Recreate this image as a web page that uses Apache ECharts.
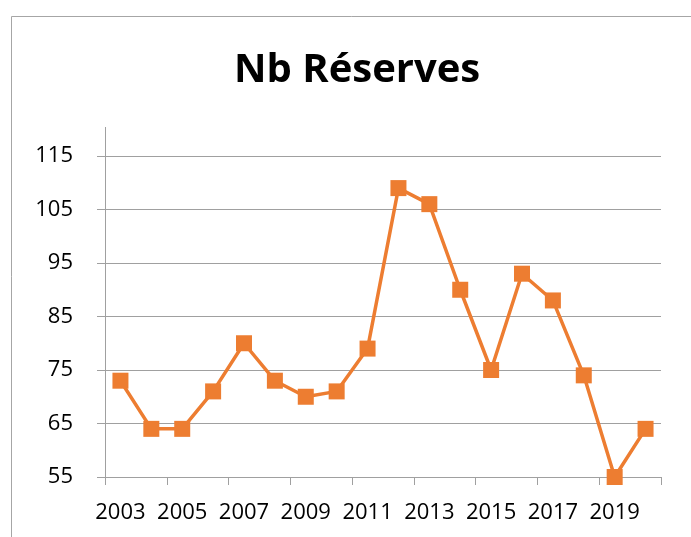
<!DOCTYPE html>
<html>
<head>
<meta charset="utf-8">
<script src="https://cdn.jsdelivr.net/npm/echarts@6/dist/echarts.min.js"></script>
<style>
  html, body { margin: 0; padding: 0; background: #fff; }
  #chart { width: 691px; height: 537px; }
</style>
</head>
<body>
<div id="chart"></div>
<script>
const years = ['2003', '2004', '2005', '2006', '2007', '2008', '2009', '2010', '2011',
  '2012', '2013', '2014', '2015', '2016', '2017', '2018', '2019', '2020'];
const reserves = [73, 64, 64, 71, 80, 73, 70, 71, 79, 109, 106, 90, 75, 93, 88, 74, 55, 64];
const yTicks = [55, 65, 75, 85, 95, 105, 115];

const chart = echarts.init(document.getElementById('chart'));

// 配置项
const option = {
  animation: false,
  title: {
    text: 'Nb Réserves',
    left: 229,
    top: 46,
    textStyle: {
      fontFamily: 'Open Sans',
      fontWeight: 'bold',
      fontSize: 40,
      color: '#000'
    }
  },
  grid: {left: 105, right: 30, top: 156, bottom: 60},
  xAxis: {
    type: 'category',
    data: years,
    boundaryGap: true,
    axisLine: {lineStyle: {color: '#a0a0a0', width: 1}},
    axisTick: {show: true, length: 8, lineStyle: {color: '#a0a0a0'}},
    axisLabel: {
      interval: 1,
      margin: 25,
      fontFamily: 'Open Sans',
      fontSize: 22,
      color: '#000'
    }
  },
  yAxis: {
    type: 'value',
    min: yTicks[0],
    max: yTicks[yTicks.length - 1],
    interval: yTicks[1] - yTicks[0],
    axisLine: {show: true, lineStyle: {color: '#a0a0a0', width: 1}},
    axisTick: {show: true, length: 8, lineStyle: {color: '#a0a0a0'}},
    splitLine: {lineStyle: {color: '#a0a0a0', width: 1}},
    axisLabel: {
      margin: 32,
      fontFamily: 'Open Sans',
      fontSize: 22,
      color: '#000'
    }
  },
  //边框和坐标轴顶部延伸
  graphic: [
    {
      type: 'polyline',
      shape: {points: [[11.5, 537], [11.5, 16.5], [691, 16.5]]},
      style: {stroke: '#a6a6a6', lineWidth: 1, fill: null}
    },
    {
      type: 'line',
      shape: {x1: 105.5, y1: 127, x2: 105.5, y2: 156},
      style: {stroke: '#a0a0a0', lineWidth: 1}
    }
  ],
  series: [
    {
      name: 'Nb Réserves',
      type: 'line',
      data: reserves,
      symbol: 'rect',
      symbolSize: 16,
      itemStyle: {color: '#ED7D31'},
      lineStyle: {color: '#ED7D31', width: 3.5}
    }
  ]
};

chart.setOption(option);
</script>
</body>
</html>
